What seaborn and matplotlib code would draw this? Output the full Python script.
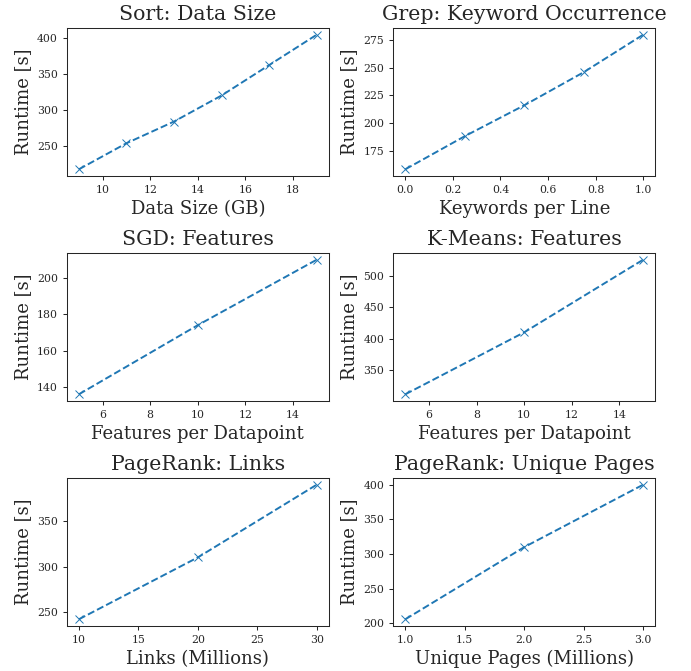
import numpy as np
import pandas as pd
import seaborn as sns
import matplotlib.pyplot as plt

sort_x = [9, 11, 13, 15, 17, 19]
sort_y = [218, 254, 284, 320, 362, 404]

grep_x = [0.0, 0.25, 0.5, 0.75, 1.0]
grep_y = [158, 188, 216, 246, 280]

sgd_x = [5, 10, 15]
sgd_y = [136, 174, 210]

kmeans_x = [5, 10, 15]
kmeans_y = [311, 410, 526]

links_x = [10, 20, 30]
links_y = [242, 310, 390]

pages_x = [1, 2, 3]
pages_y = [206, 310, 400]

panels = [
    ("Sort: Data Size", "Data Size (GB)", sort_x, sort_y),
    ("Grep: Keyword Occurrence", "Keywords per Line", grep_x, grep_y),
    ("SGD: Features", "Features per Datapoint", sgd_x, sgd_y),
    ("K-Means: Features", "Features per Datapoint", kmeans_x, kmeans_y),
    ("PageRank: Links", "Links (Millions)", links_x, links_y),
    ("PageRank: Unique Pages", "Unique Pages (Millions)", pages_x, pages_y),
]

sns.set_style("ticks")
plt.rcParams['font.family'] = 'DejaVu Serif'

dpi = 92.5
fig, axes = plt.subplots(3, 2, figsize=(691 / dpi, 671 / dpi), dpi=dpi)
for ax, (title, xlabel, xs, ys) in zip(axes.flat, panels):
    df = pd.DataFrame({"x": xs, "y": ys})
    sns.lineplot(data=df, x="x", y="y", ax=ax, marker="x", linestyle="--",
                 color="#1f77b4", markersize=7, markeredgecolor="#1f77b4")
    ax.set_title(title, fontsize=16)
    ax.set_xlabel(xlabel, fontsize=14)
    ax.set_ylabel("Runtime [s]", fontsize=14)
    ax.tick_params(labelsize=8.5)

fig.subplots_adjust(left=67 / 691, right=655 / 691, top=1 - 28 / 671,
                    bottom=1 - 626 / 671, hspace=0.52, wspace=0.248)
fig.savefig("out.png", dpi=dpi)
